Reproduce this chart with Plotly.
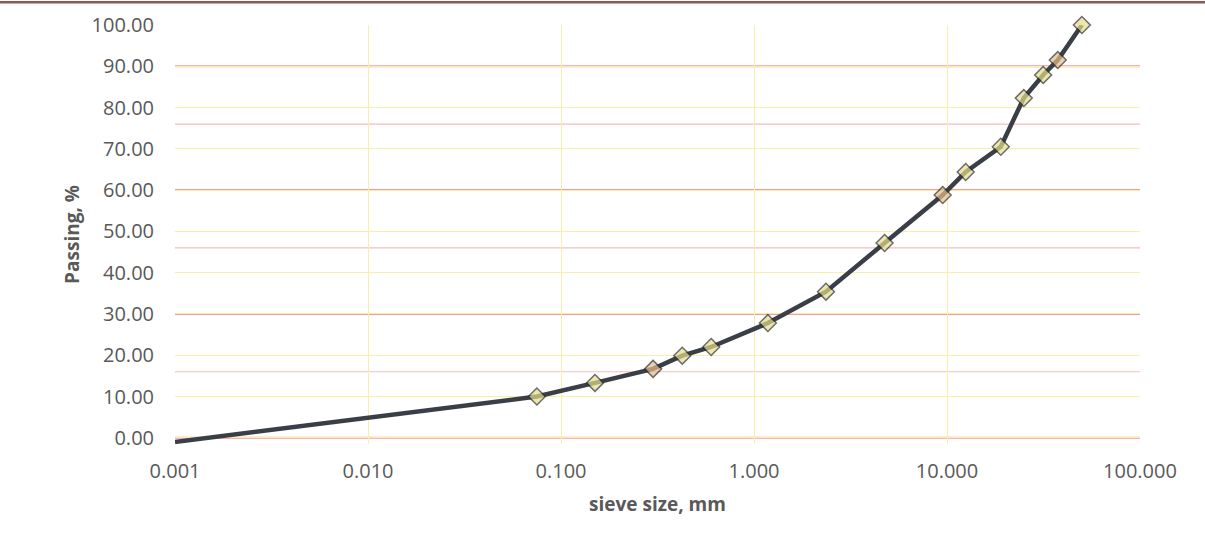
import plotly.graph_objects as go

# Data
sieve_mm = [0.001, 0.075, 0.15, 0.3, 0.425, 0.6, 1.18, 2.36, 4.75, 9.5, 12.5, 19.0, 25.0, 31.5, 37.5, 50.0]
passing = [-1.0, 10.0, 13.3, 16.7, 19.9, 22.0, 27.8, 35.4, 47.2, 58.8, 64.4, 70.5, 82.3, 87.9, 91.5, 100.0]
show_marker = [False] + [True] * 15
tinted = [0.3, 9.5, 37.5]  # markers that look reddish in the scan

x_tickvals = [0.001, 0.01, 0.1, 1, 10, 100]
x_ticktext = ["0.001", "0.010", "0.100", "1.000", "10.000", "100.000"]
y_tickvals = [0, 10, 20, 30, 40, 50, 60, 70, 80, 90, 100]
y_ticktext = [f"{v:.2f}" for v in y_tickvals]

# pink ruled lines of the scanned paper (in y data units)
paper_rule_strong = [0, 30, 60, 90]
paper_rule_light = [16, 46, 76]

FILL = "#E6DE8C"
TINT = "#E6BE8A"

marker_colors = [TINT if x in tinted else FILL for x in sieve_mm]
marker_sizes = [13 if s else 0 for s in show_marker]

fig = go.Figure()
fig.add_trace(go.Scatter(
    x=sieve_mm, y=passing,
    mode="lines+markers",
    line=dict(color="#3A3F47", width=4.5),
    marker=dict(symbol="diamond", size=marker_sizes, color=marker_colors,
                line=dict(color="#2E2E2E", width=1.5)),
    cliponaxis=False,
    showlegend=False,
))

shapes = []
for yv in paper_rule_strong:
    shapes.append(dict(type="line", xref="paper", yref="y", x0=0, x1=1, y0=yv, y1=yv,
                       line=dict(color="#F29AA0", width=2), layer="between"))
for yv in paper_rule_light:
    shapes.append(dict(type="line", xref="paper", yref="y", x0=0, x1=1, y0=yv, y1=yv,
                       line=dict(color="#F6BCC0", width=1.2), layer="between"))
# dark scan edge at the top of the picture
shapes.append(dict(type="line", xref="paper", yref="paper", x0=-0.2, x1=1.1, y0=1.054, y1=1.054,
                   line=dict(color="#8C5A52", width=2.5)))

FONT = "Open Sans, Liberation Sans, sans-serif"
tick_font = dict(family=FONT, size=20, color="#595959")
title_font = dict(family=FONT, size=19, color="#595959")

fig.update_layout(
    width=1205, height=535,
    margin=dict(l=175, r=65, t=25, b=91),
    paper_bgcolor="white",
    plot_bgcolor="white",
    shapes=shapes,
    xaxis=dict(
        type="log", range=[-3, 2],
        tickvals=x_tickvals, ticktext=x_ticktext,
        showgrid=True, gridcolor="#F8F0A8", gridwidth=1,
        zeroline=False, showline=False, ticks="",
        tickfont=tick_font, ticklabelstandoff=13,
        title=dict(text="<b>sieve size, mm</b>", font=title_font, standoff=14),
        automargin=False,
    ),
    yaxis=dict(
        range=[-1.5, 100],
        tickvals=y_tickvals, ticktext=y_ticktext,
        showgrid=True, gridcolor="#F8F0A8", gridwidth=1,
        zeroline=False, showline=False, ticks="",
        tickfont=tick_font, ticklabelstandoff=20,
        title=dict(text="<b>Passing, %</b>", font=title_font, standoff=6),
        automargin=False,
    ),
)

fig.write_html("out.html")
